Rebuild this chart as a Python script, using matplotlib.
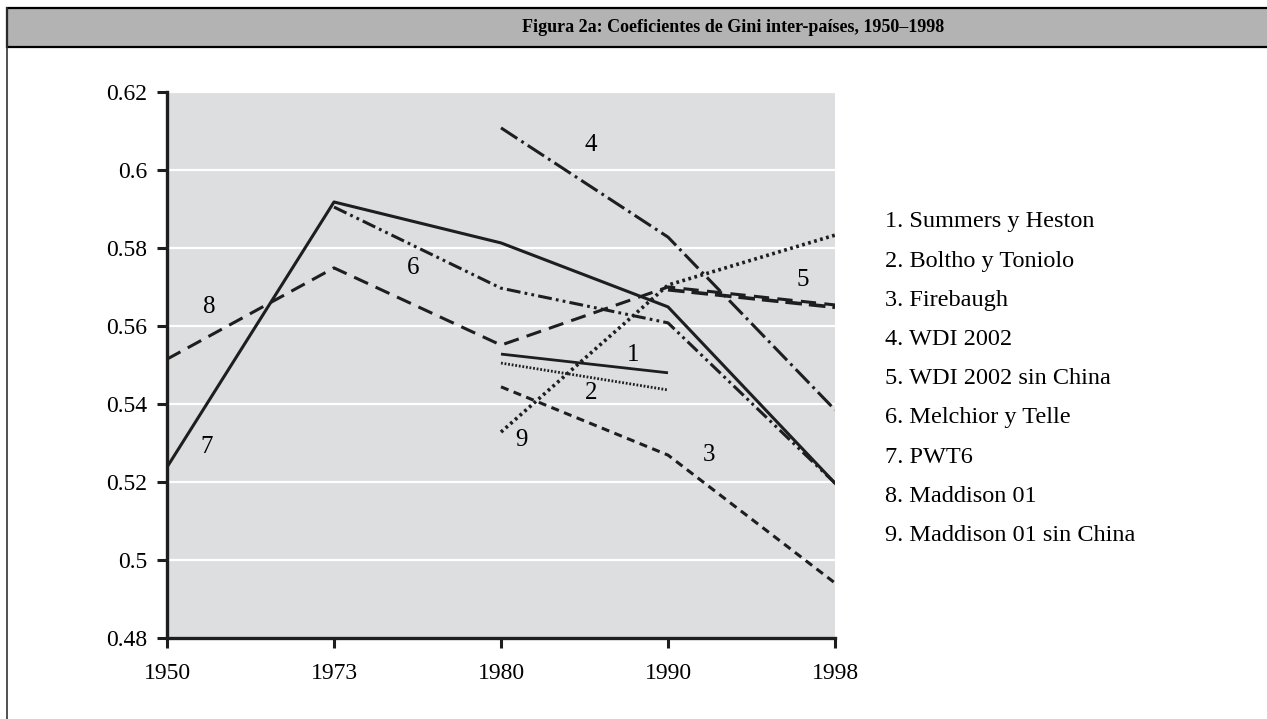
import matplotlib
matplotlib.use("Agg")
import matplotlib.pyplot as plt
from matplotlib.patches import Rectangle
from matplotlib.lines import Line2D

plt.rcParams['font.family'] = ['Liberation Serif', 'DejaVu Serif']
plt.rcParams['lines.scale_dashes'] = False

# datos
years = ['1950', '1973', '1980', '1990', '1998']
yticks = [0.48, 0.5, 0.52, 0.54, 0.56, 0.58, 0.6, 0.62]
ytick_labels = ['0.48', '0.5', '0.52', '0.54', '0.56', '0.58', '0.6', '0.62']

summers_x = [2, 3];          summers = [0.5528, 0.5480]
boltho_x = [2, 3];           boltho = [0.5505, 0.5436]
firebaugh_x = [2, 3, 4];     firebaugh = [0.5444, 0.5269, 0.4941]
wdi_x = [2, 3, 4];           wdi = [0.6108, 0.5828, 0.5385]
wdi_sc_x = [3, 4];           wdi_sc = [0.5693, 0.5648]
melchior_x = [1, 2, 3, 4];   melchior = [0.5905, 0.5697, 0.5608, 0.5197]
pwt_x = [0, 1, 2, 3, 4];     pwt = [0.5238, 0.5918, 0.5813, 0.5649, 0.5197]
madd_x = [0, 1, 2, 3, 4];    madd = [0.5515, 0.5749, 0.5551, 0.5700, 0.5654]
madd_sc_x = [2, 3, 4];       madd_sc = [0.5328, 0.5705, 0.5833]

leyenda = ['1. Summers y Heston', '2. Boltho y Toniolo', '3. Firebaugh', '4. WDI 2002',
           '5. WDI 2002 sin China', '6. Melchior y Telle', '7. PWT6', '8. Maddison 01',
           '9. Maddison 01 sin China']

# etiquetas numéricas sobre las líneas
lbl_txt = ['1', '2', '3', '4', '5', '6', '7', '8', '9']
lbl_x = [2.789, 2.537, 3.244, 2.537, 3.808, 1.475, 0.24, 0.252, 2.123]
lbl_y = [0.5526, 0.5428, 0.5269, 0.6064, 0.5718, 0.5749, 0.5290, 0.5649, 0.5308]

fig = plt.figure(figsize=(12.67, 7.19), dpi=100)
ax = fig.add_axes([167/1267, 1-638/719, 668/1267, 546/719])
ax.set_facecolor('#dddee0')

k = '#1e1e1e'
ax.plot(summers_x, summers, color=k, lw=2.0, solid_capstyle='butt')
ax.plot(boltho_x, boltho, color=k, lw=2.0, linestyle=(0, (1.3, 1.3)))
ax.plot(firebaugh_x, firebaugh, color=k, lw=2.2, linestyle=(0, (5.8, 4.0)))
ax.plot(wdi_x, wdi, color=k, lw=2.2, linestyle=(0, (14, 3.5, 2, 3.5)))
ax.plot(wdi_sc_x, wdi_sc, color=k, lw=2.6, linestyle=(0, (12, 5)))
ax.plot(melchior_x, melchior, color=k, lw=2.2, linestyle=(0, (10, 3, 2, 3, 2, 3)))
ax.plot(pwt_x, pwt, color=k, lw=2.2)
ax.plot(madd_x, madd, color=k, lw=2.2, linestyle=(0, (11, 6)))
ax.plot(madd_sc_x, madd_sc, color=k, lw=2.6, linestyle=(0, (2, 2.5)))

for t, x, y in zip(lbl_txt, lbl_x, lbl_y):
    ax.text(x, y, t, fontsize=18, ha='center', va='center', color='black')

ax.set_xlim(0, 4)
ax.set_ylim(0.48, 0.62)
ax.set_xticks(range(len(years)))
ax.set_xticklabels(years, fontsize=17)
ax.set_yticks(yticks)
ax.set_yticklabels(ytick_labels, fontsize=17)
ax.yaxis.grid(True, color='white', lw=1.6)
ax.set_axisbelow(True)
for s in ['top', 'right']:
    ax.spines[s].set_visible(False)
for s in ['left', 'bottom']:
    ax.spines[s].set_linewidth(2.4)
    ax.spines[s].set_color(k)
ax.tick_params(axis='both', direction='out', length=7, width=2.2, color=k)
ax.tick_params(axis='x', pad=11)
ax.tick_params(axis='y', pad=7)

# leyenda como texto
for i, s in enumerate(leyenda):
    fig.text(885/1267, 1 - (222 + 39.2*i)/719, s, fontsize=17.5, va='center', ha='left')

# marco y barra de título
fig.add_artist(Rectangle((7/1267, 1-47/719), 1.0, 39/719, transform=fig.transFigure,
                         facecolor='#b3b3b3', edgecolor='black', lw=1.6))
fig.add_artist(Line2D([7/1267, 7/1267], [0, 1-8/719], transform=fig.transFigure,
                      color='#333333', lw=1.2))
fig.text(733/1267, 1-27/719, 'Figura 2a: Coeficientes de Gini inter-países, 1950–1998',
         fontsize=13, fontweight='bold', ha='center', va='center')

fig.savefig('out.png', dpi=100)
